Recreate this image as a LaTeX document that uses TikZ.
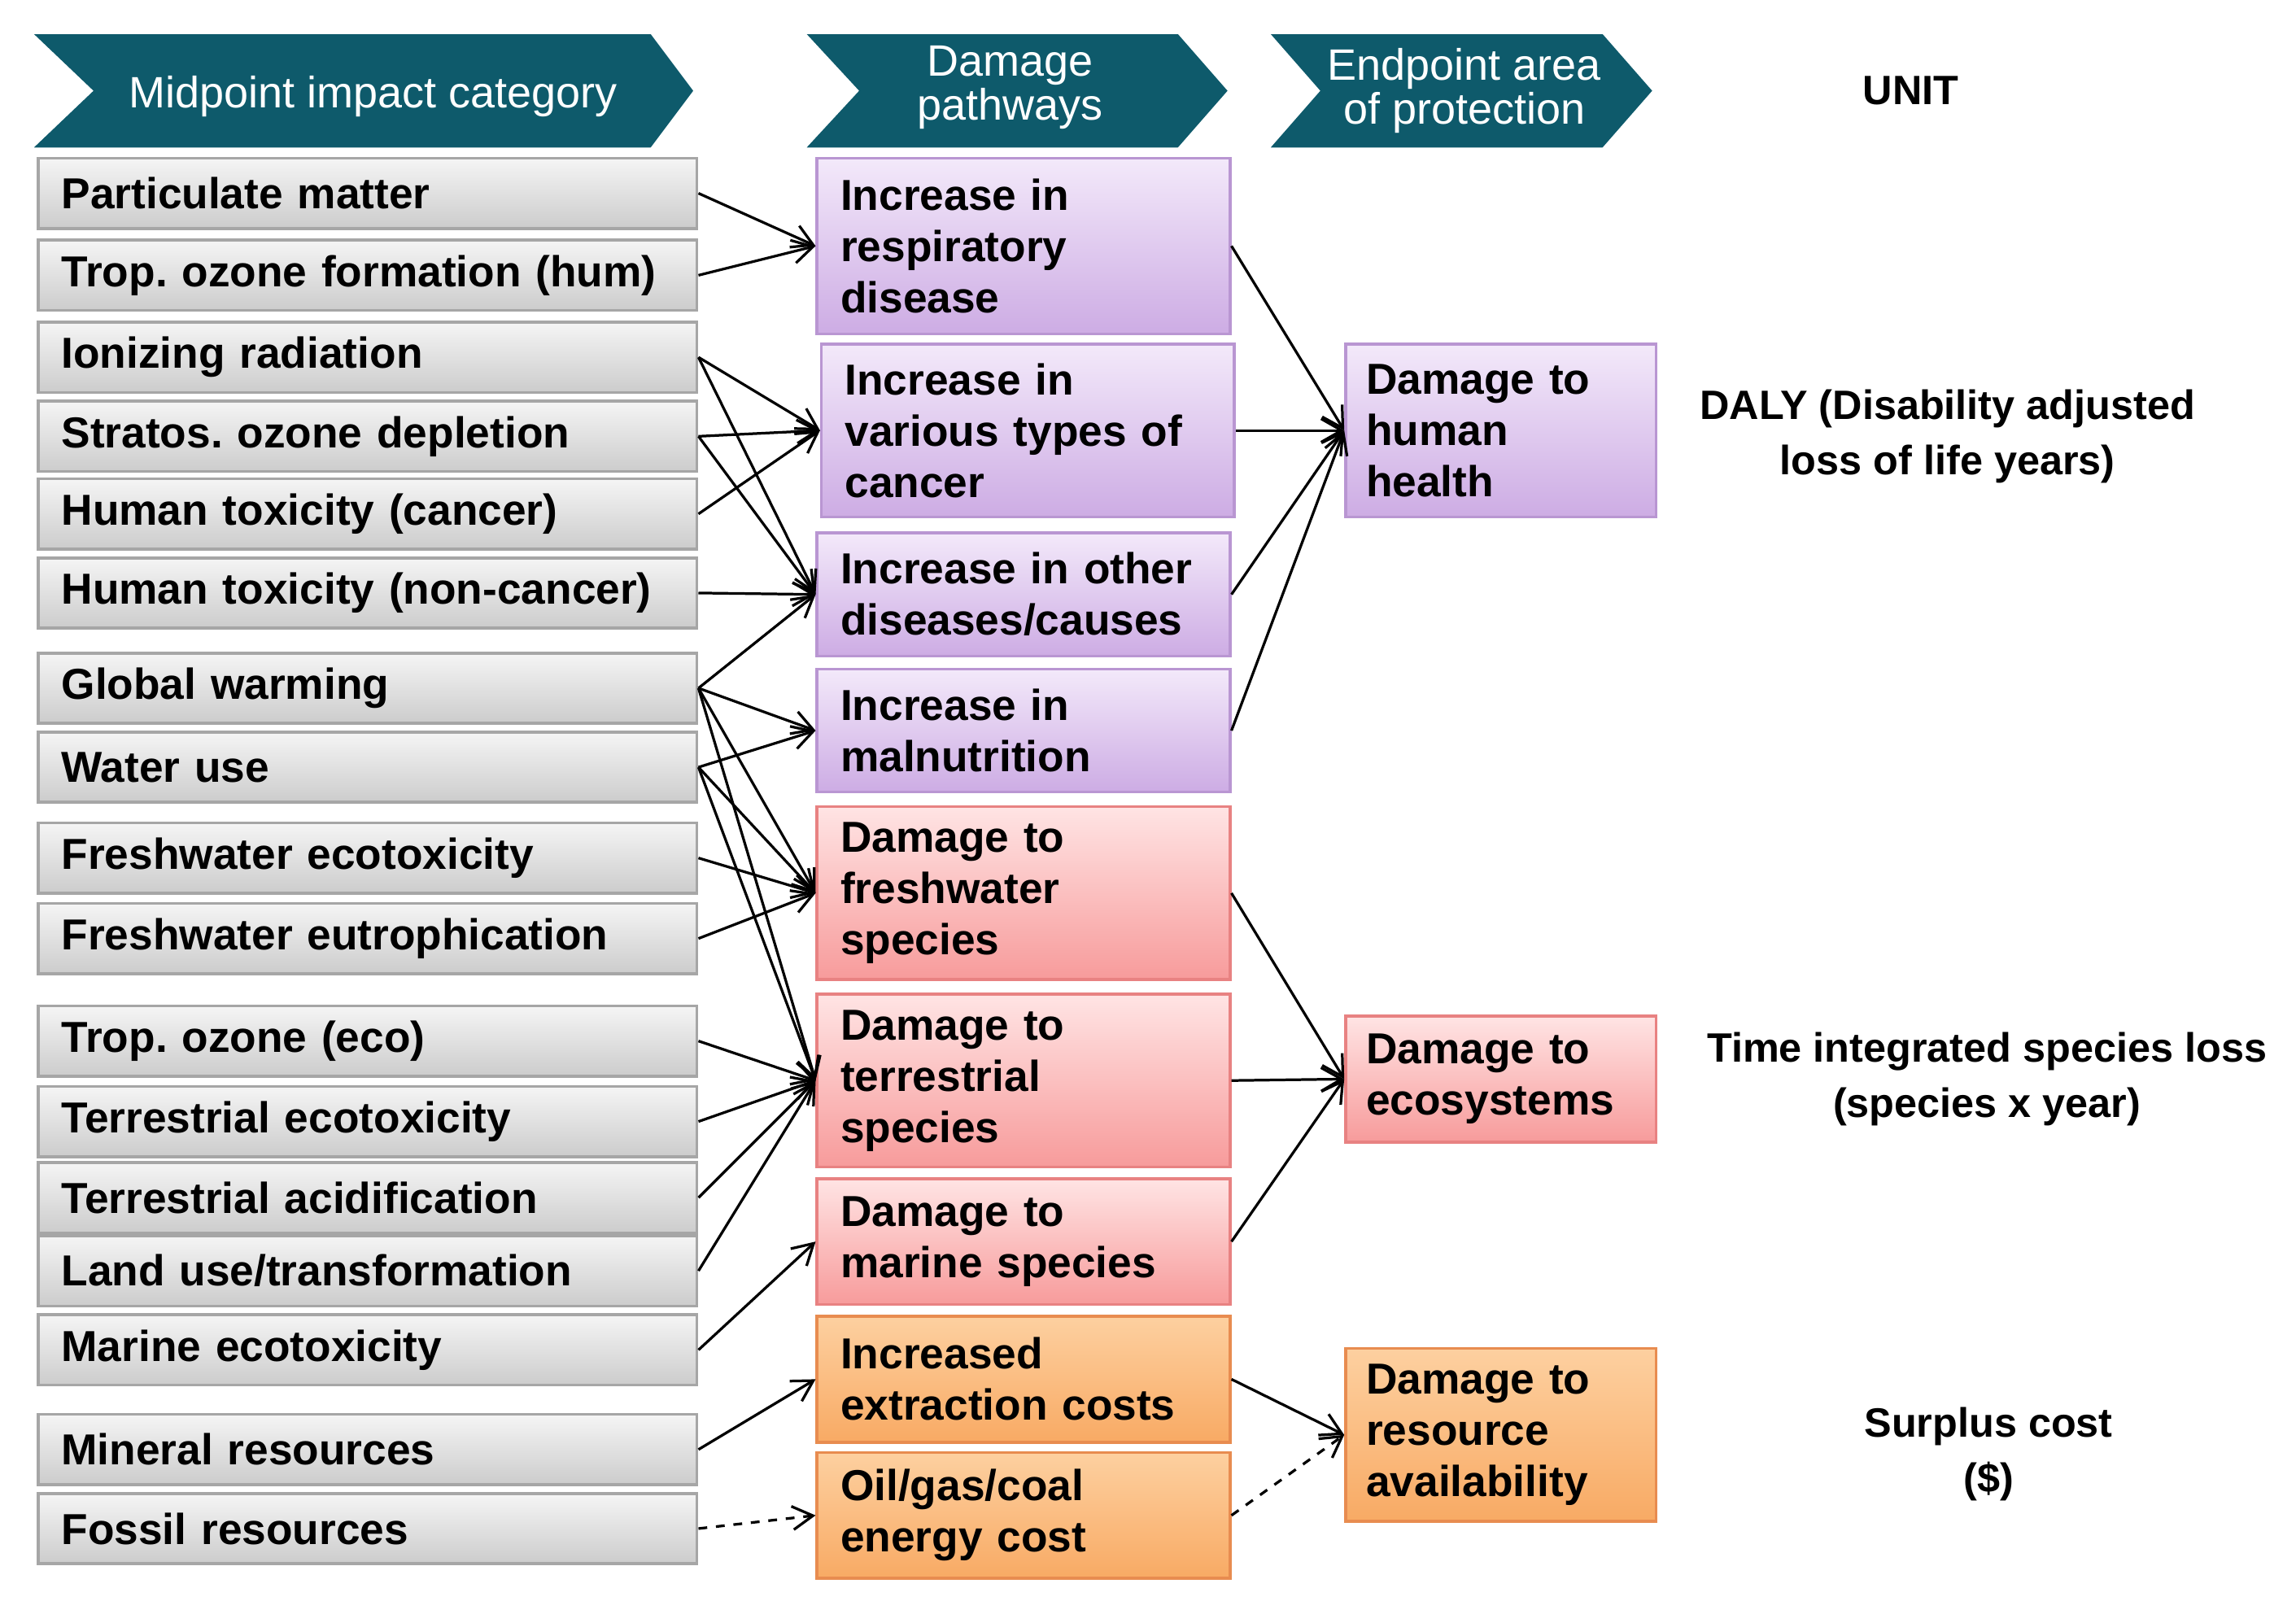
\documentclass[tikz,border=0pt]{standalone}
\usepackage{fontspec}
\setmainfont{Liberation Sans}
\usetikzlibrary{arrows.meta}
\definecolor{teal1}{HTML}{0E5A6B}
\frenchspacing
\tikzset{
 x=0.5pt,y=-0.5pt,
 mid/.style={draw=gray!70,line width=1pt,top color=gray!8,bottom color=gray!40,minimum width=225pt,minimum height=24pt,anchor=west,inner sep=0pt,
   font=\bfseries\fontsize{14.8}{15}\selectfont,text width=209pt,align=left},
 pbox/.style={line width=1pt,inner sep=0pt,font=\bfseries\fontsize{14.8}{17.5}\selectfont,align=left,anchor=north west},
 purp/.style={pbox,draw={rgb,255:red,185;green,150;blue,210},top color={rgb,255:red,243;green,233;blue,250},bottom color={rgb,255:red,205;green,172;blue,228}},
 redb/.style={pbox,draw={rgb,255:red,232;green,130;blue,130},top color={rgb,255:red,255;green,228;blue,228},bottom color={rgb,255:red,247;green,155;blue,155}},
 orab/.style={pbox,draw={rgb,255:red,232;green,140;blue,80},top color={rgb,255:red,253;green,208;blue,160},bottom color={rgb,255:red,248;green,170;blue,100}},
 hdr/.style={text=white,font=\fontsize{15}{15}\selectfont,align=center},
 unit/.style={font=\bfseries\fontsize{14}{19}\selectfont,align=center},
 ar/.style={-{Straight Barb[length=7pt,width=8pt]},line width=0.9pt},
 da/.style={ar,dashed}
}
\begin{document}
\begin{tikzpicture}
\useasboundingbox (0,0) rectangle (1568,1093);
% headers
\draw[white,line width=1.2pt,fill=teal1] (20,22)--(445,22)--(475,62)--(445,102)--(20,102)--(62,62)--cycle;
\draw[white,line width=1.2pt,fill=teal1] (548,22)--(805,22)--(840,62)--(805,102)--(548,102)--(585,62)--cycle;
\draw[white,line width=1.2pt,fill=teal1] (865,22)--(1095,22)--(1130,62)--(1095,102)--(865,102)--(900,62)--cycle;
\node[hdr] (h1) at (255,66) {Midpoint impact category};
\node[hdr] (h2) at (690,60) {Damage\\pathways};
\node[hdr] (h3) at (1000,62) {Endpoint area\\of protection};
\node[unit] (u0) at (1305,62) {UNIT};
\node[unit] (u1) at (1330,298) {DALY (Disability adjusted\\loss of life years)};
\node[unit] (u2) at (1357,737) {Time integrated species loss\\(species x year)};
\node[unit] (u3) at (1358,993) {Surplus cost\\(\$)};
% midpoint boxes
\foreach \n/\y/\t in {pm/132/Particulate matter, toh/188/Trop. ozone formation (hum), ir/244/Ionizing radiation, sod/298/Stratos. ozone depletion, htc/351/Human toxicity (cancer), htn/405/Human toxicity (non-cancer), gw/470/Global warming, wu/524/Water use, fe/586/Freshwater ecotoxicity, feu/641/Freshwater eutrophication, toe/711/Trop. ozone (eco), te/766/Terrestrial ecotoxicity, ta/818/Terrestrial acidification, lu/868/{Land use/transformation}, me/922/Marine ecotoxicity, mr/990/Mineral resources, fr/1044/Fossil resources}
  \node[mid] (\n) at (25,\y) {\t};
% damage pathways
\node[purp,minimum width=141pt,minimum height=60pt,text width=125pt] (resp) at (557,107) {Increase in\\respiratory\\disease};
\node[purp,minimum width=141pt,minimum height=59pt,text width=125pt] (canc) at (560,234) {Increase in\\various types of\\cancer};
\node[purp,minimum width=141pt,minimum height=42pt,text width=125pt] (oth) at (557,363) {Increase in other\\diseases/causes};
\node[purp,minimum width=141pt,minimum height=42pt,text width=125pt] (mal) at (557,456) {Increase in\\malnutrition};
\node[redb,minimum width=141pt,minimum height=59pt,text width=125pt] (fws) at (557,550) {Damage to\\freshwater\\species};
\node[redb,minimum width=141pt,minimum height=59pt,text width=125pt] (ter) at (557,678) {Damage to\\terrestrial\\species};
\node[redb,minimum width=141pt,minimum height=43pt,text width=125pt] (mar) at (557,804) {Damage to\\marine species};
\node[orab,minimum width=141pt,minimum height=43pt,text width=125pt] (ext) at (557,898) {Increased\\extraction costs};
\node[orab,minimum width=141pt,minimum height=43pt,text width=125pt] (oil) at (557,991) {Oil/gas/coal\\energy cost};
% endpoints
\node[purp,minimum width=106pt,minimum height=59pt,text width=92pt] (hh) at (918,234) {Damage to\\human\\health};
\node[redb,minimum width=106pt,minimum height=43pt,text width=92pt] (eco) at (918,693) {Damage to\\ecosystems};
\node[orab,minimum width=106pt,minimum height=59pt,text width=92pt] (res) at (918,920) {Damage to\\resource\\availability};
% arrows
\foreach \a/\b in {pm/resp,toh/resp,ir/canc,ir/oth,sod/canc,sod/oth,htc/canc,htn/oth,gw/oth,gw/mal,gw/fws,gw/ter,wu/mal,wu/fws,wu/ter,fe/fws,feu/fws,toe/ter,te/ter,ta/ter,lu/ter,me/mar,mr/ext}
  \draw[ar] (\a.east) -- (\b.west);
\draw[da] (fr.east) -- (oil.west);
\foreach \a/\b in {resp/hh,canc/hh,oth/hh,mal/hh,fws/eco,ter/eco,mar/eco,ext/res}
  \draw[ar] (\a.east) -- (\b.west);
\draw[da] (oil.east) -- (res.west);
\end{tikzpicture}
\end{document}
